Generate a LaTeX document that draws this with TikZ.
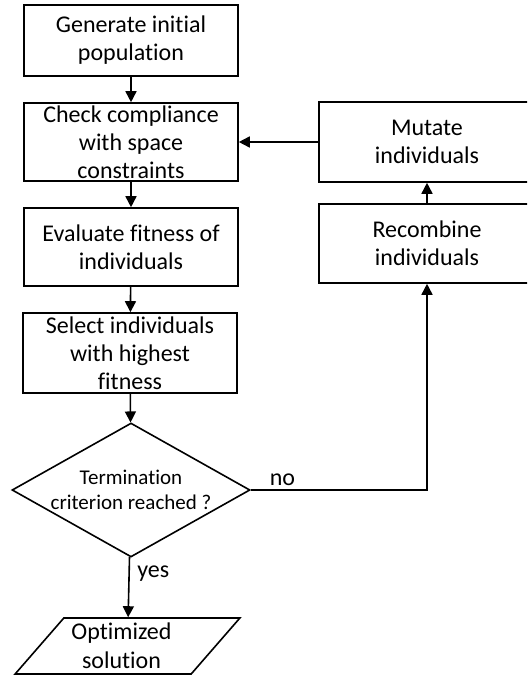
\documentclass[tikz,border=0pt]{standalone}
\usepackage{fontspec}
\setmainfont{Carlito}[Ligatures=NoCommon]
\usetikzlibrary{arrows.meta,shapes.geometric}

\tikzset{
  stepbox/.style={draw, minimum width=214pt, inner xsep=0pt, inner ysep=-5pt,
    align=center, font=\fontsize{24}{28}\selectfont},
  decision/.style={draw, diamond, inner sep=-6pt, aspect=1.75,
    minimum width=238pt, minimum height=134pt, align=center,
    font=\fontsize{21}{25}\selectfont},
  output/.style={draw, trapezium, trapezium left angle=51, trapezium right angle=129,
    trapezium stretches=true, inner sep=-4pt,
    minimum width=225pt, minimum height=56pt, align=center,
    font=\fontsize{24}{29}\selectfont},
  lbl/.style={font=\fontsize{24}{28}\selectfont}
}

\begin{document}
\begin{tikzpicture}[x=1pt, y=-1pt, >={Triangle[length=11pt,width=11pt]}, line width=1.6pt]

        \clip (0,0) rectangle (527,676);
        \useasboundingbox (0,0) rectangle (527,676);

        \node[stepbox, minimum height=71pt] (gen) at (131,40.5) {Generate initial\\population};
        \node[stepbox, minimum height=78pt] (check) at (131,142) {Check compliance\\with space\\constraints};
        \node[stepbox, minimum height=78pt] (eval) at (131,247) {Evaluate fitness of\\individuals};
        \node[stepbox, minimum height=80pt] (select) at (130,353) {Select individuals\\with highest\\fitness};
        \node[decision] (term) at (131,490) {Termination\\criterion reached ?};
        \node[output] (opt) at (127.5,646) {\hspace*{-12pt}Optimized\\\hspace*{-12pt}solution};
        \node[stepbox, minimum width=216pt, minimum height=80pt] (mutate) at (427,142) {Mutate\\individuals};
        \node[stepbox, minimum width=216pt, minimum height=79pt] (recomb) at (427,243.5) {Recombine\\individuals};
        \draw[->] (gen) -- (check);
        \draw[->] (check) -- (eval);
        \draw[->] (eval) -- (select);
        \draw[->] (select) -- (term);
        \draw[->] (term) -- node[lbl, right, pos=0.27, xshift=4pt] {yes} (opt);
        \draw[->] (term.east) -| node[lbl, above, pos=0.09] {no} (recomb.south);
        \draw[->] (recomb) -- (mutate);
        \draw[->] (mutate.west) -- (check.east);
            \end{tikzpicture}
\end{document}
